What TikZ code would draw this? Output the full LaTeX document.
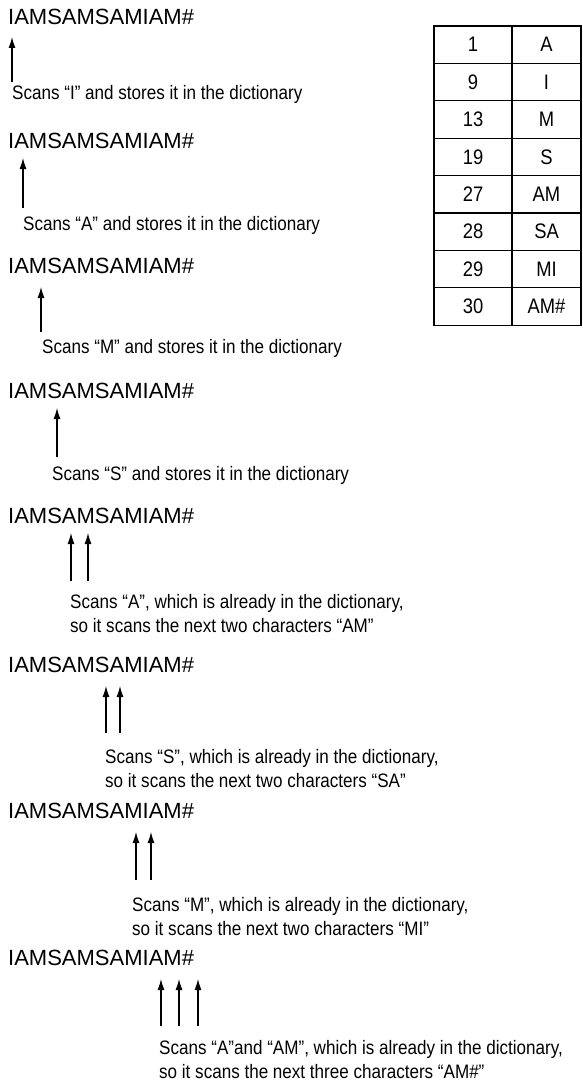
\documentclass[tikz,border=0pt]{standalone}
\usepackage{fontspec}
\setmainfont{Liberation Sans}
\newfontfamily\narrowfont[FakeStretch=0.875]{Liberation Sans}
\usetikzlibrary{arrows.meta}
\usetikzlibrary{positioning}

\begin{document}
\begin{tikzpicture}[x=1pt, y=-1pt,
  every node/.style={inner sep=0pt, anchor=base west},
  word/.style={font=\fontsize{22}{26}\selectfont},
  note/.style={font=\narrowfont\fontsize{19.5}{24}\selectfont, align=left},
  scan/.style={-{Latex[length=11pt, width=7pt]}, line width=1.2pt},
  cell/.style={anchor=center, font=\narrowfont\fontsize{21}{24}\selectfont}]
        % Define the scanned string
        \def\word{IAMSAMSAMIAM\#}
        % Define the row height of the dictionary
        \def\rowh{37.4}

        \useasboundingbox (0,0) rectangle (582,1089);

        % Single character scans
        \foreach \k/\y/\x/\tip/\tail/\cy/\cx/\c in {1/25/12/37/82/100/12/I, 2/148/23/158/208/230/23/A, 3/273/41/287/332/353/42/M, 4/398/57/408/457/480/52/S}
        {
          \node[word] (s\k) at (8,\y) {\word};
          \coordinate (t\k) at (\x,\tip);
          \coordinate (b\k) at (\x,\tail);
          \draw[scan] (b\k) -- (t\k);
          \node[note] (c\k) at (\cx,\cy) {Scans “\c” and stores it in the dictionary};
        }

        % Two character scans
        \node[word] (s5) at (8,523) {\word};
        \node[word] (s6) at (8,672) {\word};
        \node[word] (s7) at (8,818) {\word};
        \node[word] (s8) at (8,965) {\word};

        \foreach \k/\x/\tip/\tail in {5/71/533/581, 5/88/533/581, 6/106/686/733, 6/120/686/733, 7/136/832/880, 7/151/832/880, 8/161/979/1026, 8/179/979/1026, 8/198/979/1026}
        {
          \coordinate (t\k-\x) at (\x,\tip);
          \coordinate (b\k-\x) at (\x,\tail);
          \draw[scan] (b\k-\x) -- (t\k-\x);
        }

        % base is the last line of each note
        \node[note] (c5) at (70,632) {Scans “A”, which is already in the dictionary,\\so it scans the next two characters “AM”};
        \node[note] (c6) at (105,787) {Scans “S”, which is already in the dictionary,\\so it scans the next two characters “SA”};
        \node[note] (c7) at (132,935) {Scans “M”, which is already in the dictionary,\\so it scans the next two characters “MI”};
        \node[note] (c8) at (159,1078) {Scans “A”and “AM”, which is already in the dictionary,\\so it scans the next three characters “AM\#”};

        % The dictionary
        \draw[line width=1.2pt] (434,26) rectangle (581,{26+8*\rowh});
        \draw[line width=1.2pt] (512,26) -- (512,{26+8*\rowh});
        \foreach \n/\s [count=\r] in {1/A, 9/I, 13/M, 19/S, 27/AM, 28/SA, 29/MI, 30/AM\#}
        {
          \node[cell] (n\r) at (473,{26+\rowh*(\r-0.5)}) {\n};
          \node[cell] (e\r) at (546.5,{26+\rowh*(\r-0.5)}) {\s};
          \ifnum\r<8 \draw[line width=1.2pt] (434,{26+\rowh*\r}) -- (581,{26+\rowh*\r}); \fi
        }
      \end{tikzpicture}
\end{document}
